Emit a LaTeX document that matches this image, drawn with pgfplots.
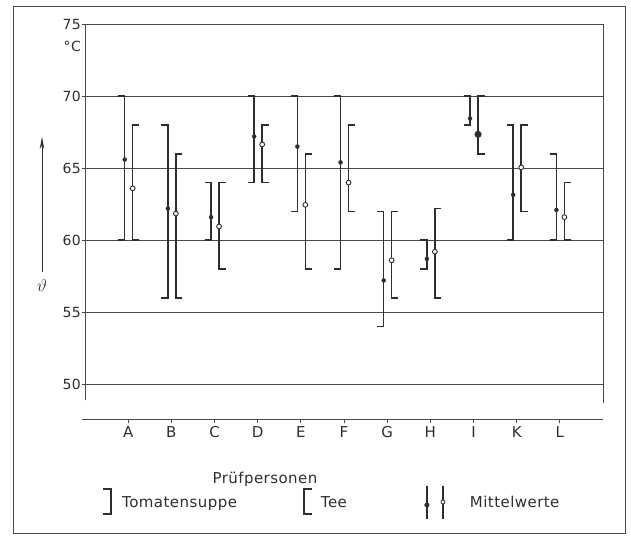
\documentclass[border=0pt]{standalone}
\usepackage{pgfplots}
\pgfplotsset{compat=1.18}
\usepackage{fontspec}
\setmainfont{DejaVu Sans}[LetterSpace=3.0]
\usetikzlibrary{arrows.meta}
\definecolor{ink}{HTML}{2E2E2E}
\definecolor{gridc}{HTML}{4A4A4A}
\begin{document}
\begin{tikzpicture}[x=1pt,y=1pt]
\path[use as bounding box] (0,0) rectangle (631,536);
\draw[line width=0.9pt, gridc] (13,3) rectangle (625,530);
% y arrow and symbol
\draw[line width=0.8pt, ink, -{Stealth[length=12pt,width=4.5pt]}] (42,264) -- (42,399);
\node[font=\fontsize{19}{20}\selectfont, text=ink] at (42,251) {$\vartheta$};

\begin{axis}[
  at={(85pt,136pt)}, anchor=south west, scale only axis,
  width=518pt, height=375.8pt,
  xmin=0, xmax=12, ymin=48.9, ymax=75,
  xtick=\empty, ytick={50,55,...,75},
  axis line style={draw=none},
  ymajorgrids, grid style={line width=0.8pt, gridc},
  tick align=outside, ytick pos=left, major tick length=3pt,
  tick style={line width=0.7pt, gridc},
  yticklabel style={font=\fontsize{14}{16}\selectfont, inner xsep=1pt, text=ink},
  /pgf/number format/assume math mode=true,
  clip=false,
  unbounded coords=jump,
]
\draw[line width=0.8pt, gridc] (rel axis cs:0,0) -- (rel axis cs:0,1);
\draw[line width=0.8pt, gridc] (rel axis cs:1,-0.008) -- (rel axis cs:1,1);
\node[anchor=east, font=\fontsize{14}{16}\selectfont, text=ink, inner xsep=1pt, xshift=-3pt] at (axis cs:0,73.47) {°C};

% Tomatensuppe ranges  ]
\addplot[line width=1.5pt, ink] coordinates {
 (0.77,70) (0.92,70) (0.92,60) (0.77,60) (nan,nan)
 (1.77,68) (1.92,68) (1.92,56) (1.77,56) (nan,nan)
 (2.77,64) (2.92,64) (2.92,60) (2.77,60) (nan,nan)
 (3.77,70) (3.92,70) (3.92,64) (3.77,64) (nan,nan)
 (4.77,70) (4.92,70) (4.92,62) (4.77,62) (nan,nan)
 (5.77,70) (5.92,70) (5.92,58) (5.77,58) (nan,nan)
 (6.77,62) (6.92,62) (6.92,54) (6.77,54) (nan,nan)
 (7.77,60) (7.92,60) (7.92,58) (7.77,58) (nan,nan)
 (8.77,70) (8.92,70) (8.92,68) (8.77,68) (nan,nan)
 (9.77,68) (9.92,68) (9.92,60) (9.77,60) (nan,nan)
 (10.77,66) (10.92,66) (10.92,60) (10.77,60)
};
% Tee ranges  [
\addplot[line width=1.5pt, ink] coordinates {
 (1.255,68) (1.105,68) (1.105,60) (1.255,60) (nan,nan)
 (2.255,66) (2.105,66) (2.105,56) (2.255,56) (nan,nan)
 (3.255,64) (3.105,64) (3.105,58) (3.255,58) (nan,nan)
 (4.255,68) (4.105,68) (4.105,64) (4.255,64) (nan,nan)
 (5.255,66) (5.105,66) (5.105,58) (5.255,58) (nan,nan)
 (6.255,68) (6.105,68) (6.105,62) (6.255,62) (nan,nan)
 (7.255,62) (7.105,62) (7.105,56) (7.255,56) (nan,nan)
 (8.255,62.2) (8.105,62.2) (8.105,56) (8.255,56) (nan,nan)
 (9.255,70) (9.105,70) (9.105,66) (9.255,66) (nan,nan)
 (10.255,68) (10.105,68) (10.105,62) (10.255,62) (nan,nan)
 (11.255,64) (11.105,64) (11.105,60) (11.255,60)
};
% Tomatensuppe means (filled)
\addplot[only marks, mark=*, mark size=2pt, ink] coordinates {
 (0.92,65.6) (1.92,62.2) (2.92,61.6) (3.92,67.2) (4.92,66.5) (5.92,65.4)
 (6.92,57.2) (7.92,58.7) (8.92,68.45) (9.92,63.15) (10.92,62.1)
};
% Tee means (open)
\addplot[only marks, mark=*, mark size=2.4pt, mark options={fill=white, draw=ink, line width=0.9pt}] coordinates {
 (1.105,63.6) (2.105,61.85) (3.105,60.95) (4.105,66.65) (5.105,62.45) (6.105,64.0)
 (7.105,58.6) (8.105,59.2) (10.105,65.05) (11.105,61.6)
};
\addplot[only marks, mark=*, mark size=3.3pt, ink] coordinates {(9.105,67.35)};
\end{axis}

\begin{axis}[
  at={(82pt,117pt)}, anchor=south west, scale only axis,
  width=521pt, height=10pt,
  xmin=-0.0695, xmax=12, ymin=0, ymax=1,
  axis x line*=bottom, axis y line=none, ytick=\empty,
  x axis line style={-, line width=0.9pt, gridc},
  xtick={1,...,11}, xticklabels={A,B,C,D,E,F,G,H,I,K,L},
  tick align=outside, major tick length=4pt,
  tick style={line width=0.7pt, gridc},
  xticklabel style={font=\fontsize{15}{17}\selectfont, text=ink},
  xlabel={Prüfpersonen},
  xlabel style={at={(axis description cs:0.3512,0)}, anchor=base, yshift=-64pt, font=\fontsize{15}{17}\selectfont, text=ink},
  legend columns=-1,
  legend style={at={(axis description cs:0.0384,-8.35)}, anchor=west, draw=none, fill=none,
    inner sep=0pt, font=\fontsize{15}{17}\selectfont, text=ink,
    nodes={inner xsep=0pt},
    /tikz/column 2/.style={column sep=66pt},
    /tikz/column 4/.style={column sep=77pt}},
]
\addlegendimage{legend image code/.code={
  \path[draw=none] (0pt,0pt) -- (20pt,0pt);
  \draw[line width=1.5pt, ink] (1pt,14pt) -- (9pt,14pt) -- (9pt,-11pt) -- (1pt,-11pt);}}
\addlegendentry{Tomatensuppe}
\addlegendimage{legend image code/.code={
  \path[draw=none] (0pt,0pt) -- (18pt,0pt);
  \draw[line width=1.5pt, ink] (9pt,14pt) -- (1pt,14pt) -- (1pt,-11pt) -- (9pt,-11pt);}}
\addlegendentry{Tee}
\addlegendimage{legend image code/.code={
  \path[draw=none] (0pt,0pt) -- (46pt,0pt);
  \draw[line width=1.5pt, ink] (3pt,-16pt) -- (3pt,17pt);
  \draw[line width=1.5pt, ink] (19pt,-16pt) -- (19pt,17pt);
  \fill[ink] (3pt,-2pt) circle (2.3pt);
  \filldraw[fill=white, draw=ink, line width=0.8pt] (19pt,1pt) circle (2pt);}}
\addlegendentry{Mittelwerte}
\end{axis}
\end{tikzpicture}
\end{document}
